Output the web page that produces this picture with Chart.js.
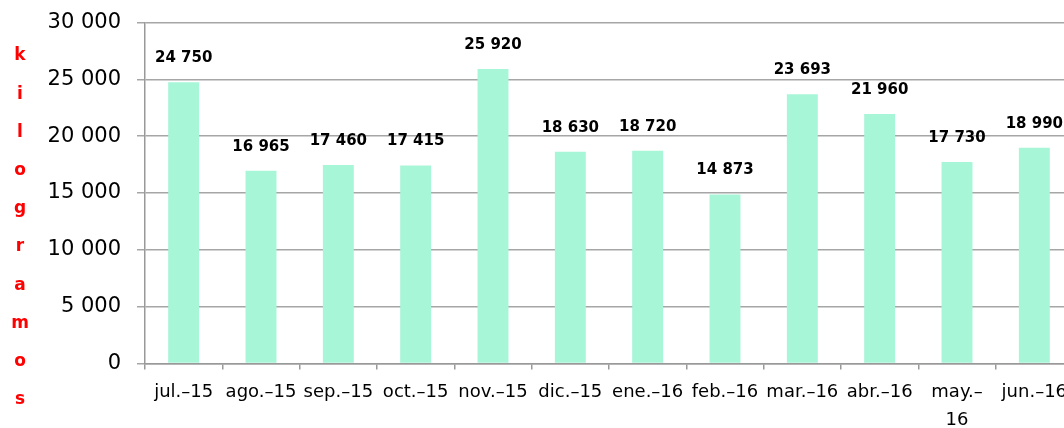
<!DOCTYPE html>
<html>
<head>
<meta charset="utf-8">
<script src="https://cdn.jsdelivr.net/npm/chart.js@4/dist/chart.umd.min.js"></script>
<style>
html,body{margin:0;padding:0;background:#fff;overflow:hidden;width:1064px;height:428px;}
#wrap{position:absolute;left:0;top:0;width:1074px;height:428px;}
</style>
</head>
<body>
<div id="wrap"><canvas id="c"></canvas></div>
<script>
const categories = ['jul.–15','ago.–15','sep.–15','oct.–15','nov.–15','dic.–15','ene.–16','feb.–16','mar.–16','abr.–16',['may.–','16'],'jun.–16'];
const kilogramos = [24750, 16965, 17460, 17415, 25920, 18630, 18720, 14873, 23693, 21960, 17730, 18990];
const yTitleLetters = ['k','i','l','o','g','r','a','m','o','s'];
const yMin = 0, yMax = 30000, yStep = 5000;

function fmt(v){ return String(v).replace(/\B(?=(\d{3})+(?!\d))/g,' '); }

const dataLabels = {
  id:'dataLabels',
  afterDatasetsDraw(chart){
    const ctx = chart.ctx;
    const meta = chart.getDatasetMeta(0);
    ctx.save();
    ctx.font = 'bold 15px "DejaVu Sans", sans-serif';
    ctx.fillStyle = '#000';
    ctx.textAlign = 'center';
    ctx.textBaseline = 'middle';
    meta.data.forEach((bar,i)=>{
      ctx.fillText(fmt(kilogramos[i]), bar.x, bar.y - 24);
    });
    ctx.restore();
  }
};
const yTitle = {
  id:'yTitle',
  afterDraw(chart){
    const ctx = chart.ctx;
    ctx.save();
    ctx.font = 'bold 17px "DejaVu Sans", sans-serif';
    ctx.fillStyle = '#ff0000';
    ctx.textAlign = 'center';
    ctx.textBaseline = 'middle';
    yTitleLetters.forEach((ch,i)=>{ ctx.fillText(ch, 20, 56 + i*38.2); });
    ctx.restore();
  }
};

new Chart(document.getElementById('c'), {
  type:'bar',
  data:{ labels: categories, datasets:[{ data: kilogramos, backgroundColor:'#a7f6d8', borderWidth:0, barPercentage:0.8, categoryPercentage:0.5 }] },
  options:{
    responsive:true, maintainAspectRatio:false, animation:false,
    layout:{ padding:{ top:22.5, right:1, left:0, bottom:0 } },
    plugins:{ legend:{display:false}, tooltip:{enabled:false} },
    scales:{
      x:{
        grid:{ display:true, drawOnChartArea:false, offset:true, tickLength:6, color:'#999', lineWidth:1.5 },
        border:{ color:'#999', width:1.5 },
        ticks:{ color:'#000', font:{ family:'"DejaVu Sans", sans-serif', size:18, lineHeight:1.6 }, maxRotation:0, minRotation:0, autoSkip:false, padding:8 },
        afterFit(s){ s.height = 64.5; s.paddingLeft = 0; s.paddingRight = 0; }
      },
      y:{
        min:yMin, max:yMax,
        grid:{ color:'#a6a6a6', lineWidth:1.5, tickLength:8 },
        border:{ color:'#999', width:1.5 },
        ticks:{ stepSize:yStep, color:'#000', font:{ family:'"DejaVu Sans", sans-serif', size:21 }, padding:16, callback:(v)=>fmt(v) },
        afterFit(s){ s.width = 145; s.paddingTop = 0; s.paddingBottom = 0; }
      }
    }
  },
  plugins:[dataLabels, yTitle]
});
</script>
</body>
</html>
